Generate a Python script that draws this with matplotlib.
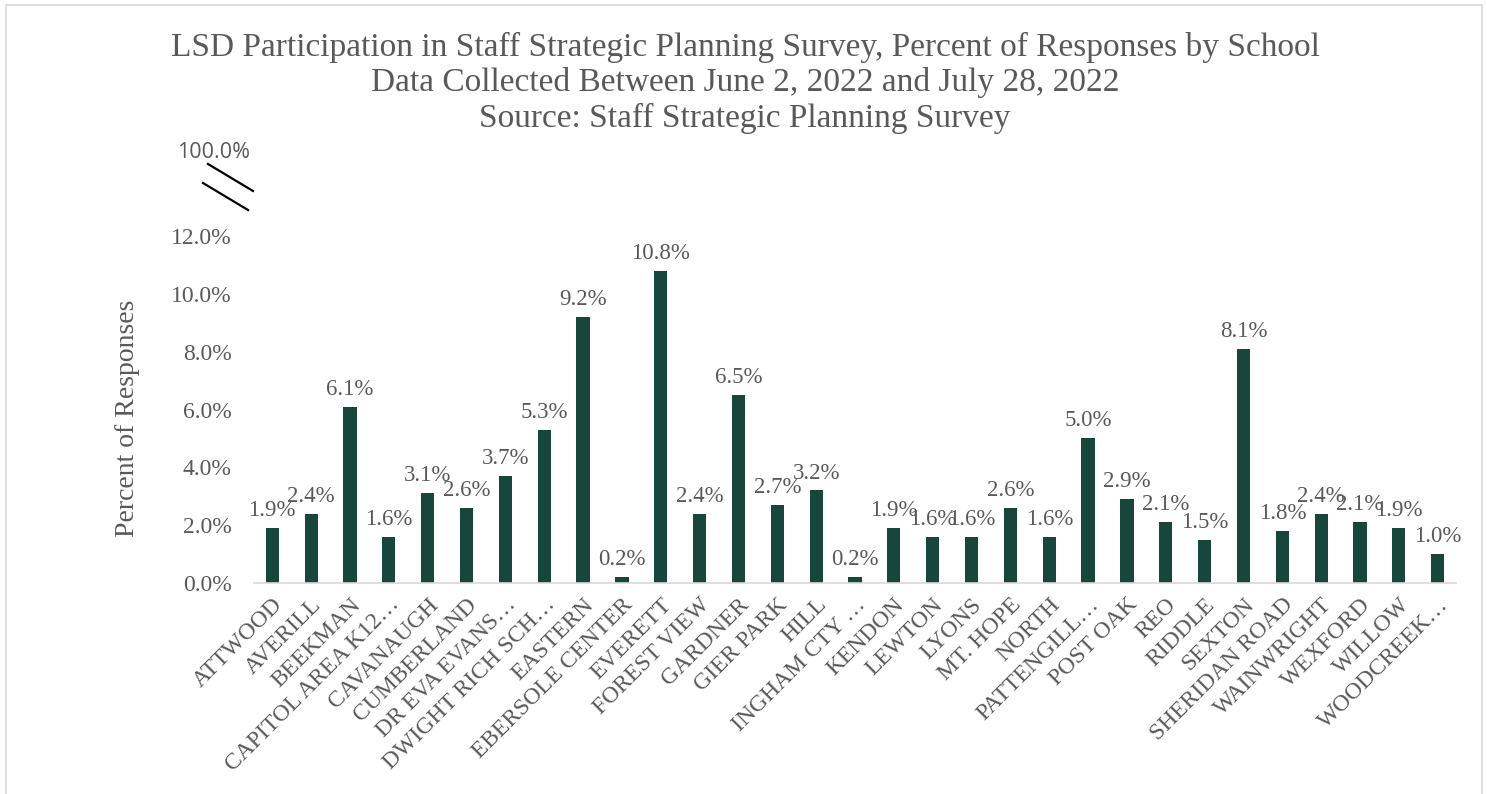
import matplotlib.pyplot as plt
from matplotlib.patches import Rectangle
from matplotlib.lines import Line2D

# School names and share of responses (%)
schools = ["ATTWOOD", "AVERILL", "BEEKMAN", "CAPITOL AREA K12…", "CAVANAUGH",
           "CUMBERLAND", "DR EVA EVANS…", "DWIGHT RICH SCH…", "EASTERN",
           "EBERSOLE CENTER", "EVERETT", "FOREST VIEW", "GARDNER", "GIER PARK",
           "HILL", "INGHAM CTY …", "KENDON", "LEWTON", "LYONS", "MT. HOPE",
           "NORTH", "PATTENGILL…", "POST OAK", "REO", "RIDDLE", "SEXTON",
           "SHERIDAN ROAD", "WAINWRIGHT", "WEXFORD", "WILLOW", "WOODCREEK…"]
percents = [1.9, 2.4, 6.1, 1.6, 3.1, 2.6, 3.7, 5.3, 9.2, 0.2, 10.8, 2.4, 6.5,
            2.7, 3.2, 0.2, 1.9, 1.6, 1.6, 2.6, 1.6, 5.0, 2.9, 2.1, 1.5, 8.1,
            1.8, 2.4, 2.1, 1.9, 1.0]
yticks = [0, 2, 4, 6, 8, 10, 12]

title_lines = ["LSD Participation in Staff Strategic Planning Survey, Percent of Responses by School",
               "Data Collected Between June 2, 2022 and July 28, 2022",
               "Source: Staff Strategic Planning Survey"]

gray = "#595959"
bar_color = "#17463B"
serif = "Liberation Serif"

W, H = 1487, 794
fig = plt.figure(figsize=(W / 100, H / 100), dpi=100)

# light frame around the chart area
fig.patches.append(Rectangle((6 / W, -0.01), 1476 / W, 1 - 5 / H + 0.01,
                             transform=fig.transFigure, fill=False,
                             edgecolor="#D9D9D9", linewidth=1.2))

ax = fig.add_axes([254 / W, 1 - 583 / H, (1456 - 254) / W, (583 - 236) / H])
x = range(len(schools))
ax.bar(x, percents, width=0.34, color=bar_color)
ax.set_xlim(-0.47, len(schools) - 0.53)
ax.set_ylim(0, 12)

for xi, v in zip(x, percents):
    ax.annotate(f"{v:.1f}%", (xi, v), xytext=(0, 5), textcoords="offset points",
                ha="center", va="bottom", fontsize=16.5, color=gray,
                family=serif, clip_on=False)

ax.set_yticks(yticks)
ax.set_yticklabels([f"{t:.1f}%" for t in yticks], fontsize=17, color=gray, family=serif)
ax.set_xticks(list(x))
ax.set_xticklabels(schools, rotation=45, ha="right", rotation_mode="anchor",
                   fontsize=17, color=gray, family=serif)
ax.tick_params(axis="both", length=0)
ax.tick_params(axis="y", pad=16)
ax.tick_params(axis="x", pad=8)

for s in ["top", "right", "left"]:
    ax.spines[s].set_visible(False)
ax.spines["bottom"].set_color("#D9D9D9")
ax.spines["bottom"].set_linewidth(1.2)

# y axis title
fig.text(127 / W, 1 - 418 / H, "Percent of Responses", rotation=90,
         ha="center", va="center", fontsize=20, color=gray, family=serif)

# title block
for i, line in enumerate(title_lines):
    fig.text(745 / W, 1 - (47 + 35.5 * i) / H, line, ha="center", va="center",
             fontsize=24, color=gray, family=serif)

# axis break marker with the 100% label
fig.text(250 / W, 1 - 152 / H, "100.0%", ha="right", va="center",
         fontsize=15.5, color=gray, family="Open Sans")
fig.lines.append(Line2D([208 / W, 253 / W], [1 - 164 / H, 1 - 191 / H],
                        transform=fig.transFigure, color="black", linewidth=1.6))
fig.lines.append(Line2D([203 / W, 248 / W], [1 - 183 / H, 1 - 210 / H],
                        transform=fig.transFigure, color="black", linewidth=1.6))

fig.savefig("out.png", dpi=100)
plt.close(fig)
